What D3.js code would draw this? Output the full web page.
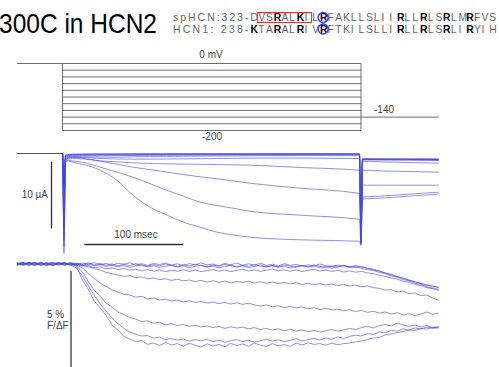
<!DOCTYPE html>
<html>
<head>
<meta charset="utf-8">
<script src="https://cdn.jsdelivr.net/npm/d3@7"></script>
<style>
  body { margin: 0; background: #fff; }
  svg { display: block; }
  text { font-family: "Liberation Sans", Arial, sans-serif; }
</style>
</head>
<body>
<div id="chart"></div>
<script>
// ---- data ----
// voltage protocol (mV)
const holdV = 0;
const stepV = [0, -20, -40, -60, -80, -100, -120, -140, -160, -180, -200];
const tailV = -160;          // drawn level of the tail pulse
const protoT = [-46, 0, 301.5, 380]; // hold start, step on, step off, tail end (ms)

// current traces (µA), one per step, sampled at tCur (ms)
const tCur = [-46, 0, 1.5, 3, 6, 10, 20, 38, 55, 71, 88, 105, 122, 139, 156, 172, 189, 240, 298, 300, 301.5, 303, 320, 350, 380];
const cur1 = [0, 0, -5.0, -0.2, -0.1, -0.08, -0.06, -0.05, -0.05, -0.04, -0.04, -0.04, -0.03, -0.03, -0.03, -0.03, -0.03, -0.03, -0.03, -0.05, -12.2, -0.8, -0.8, -0.82, -0.82];
const cur2 = [0, 0, -6.0, -0.3, -0.18, -0.14, -0.12, -0.1, -0.09, -0.08, -0.07, -0.07, -0.06, -0.06, -0.06, -0.05, -0.05, -0.05, -0.05, -0.07, -12.4, -0.82, -0.83, -0.84, -0.85];
const cur3 = [0, 0, -7.0, -0.4, -0.25, -0.2, -0.18, -0.16, -0.14, -0.13, -0.12, -0.11, -0.1, -0.1, -0.1, -0.09, -0.09, -0.08, -0.08, -0.1, -12.6, -0.85, -0.86, -0.87, -0.88];
const cur4 = [0, 0, -8.0, -0.5, -0.32, -0.28, -0.26, -0.24, -0.22, -0.2, -0.18, -0.17, -0.16, -0.15, -0.15, -0.14, -0.14, -0.13, -0.12, -0.14, -12.8, -0.88, -0.9, -0.9, -0.92];
const cur5 = [0, 0, -9.0, -0.6, -0.4, -0.36, -0.35, -0.35, -0.32, -0.3, -0.28, -0.26, -0.25, -0.24, -0.23, -0.22, -0.22, -0.21, -0.2, -0.22, -13.0, -0.9, -0.92, -0.94, -0.95];
const cur6 = [0, 0, -10.0, -0.7, -0.5, -0.45, -0.5, -0.55, -0.55, -0.5, -0.48, -0.45, -0.42, -0.4, -0.38, -0.36, -0.35, -0.33, -0.32, -0.34, -13.2, -0.95, -0.98, -1.0, -1.05];
const cur7 = [0, 0, -11.0, -0.8, -0.6, -0.55, -0.6, -0.75, -0.82, -0.85, -0.85, -0.82, -0.8, -0.78, -0.75, -0.72, -0.7, -0.7, -0.75, -0.78, -13.3, -1.15, -1.25, -1.35, -1.45];
const cur8 = [0, 0, -12.0, -0.9, -0.7, -0.6, -0.7, -1.1, -1.25, -1.4, -1.5, -1.55, -1.6, -1.62, -1.66, -1.7, -1.75, -2.1, -2.5, -2.55, -13.4, -2.5, -2.6, -2.7, -2.8];
const cur9 = [0, 0, -13.0, -1.0, -0.8, -0.75, -0.8, -1.15, -1.6, -2.05, -2.4, -2.8, -3.15, -3.5, -3.8, -4.1, -4.45, -5.2, -5.95, -6.0, -13.5, -4.75, -4.75, -4.75, -4.75];
const cur10 = [0, 0, -14.0, -1.2, -1.0, -1.1, -1.3, -2.05, -2.8, -3.55, -4.5, -5.5, -6.4, -7.3, -7.8, -8.2, -8.65, -9.25, -9.85, -9.9, -13.6, -6.55, -6.4, -6.1, -5.8];
const cur11 = [0, 0, -15.0, -1.2, -1.1, -1.3, -1.6, -2.5, -4.0, -6.25, -8.0, -9.2, -10.3, -11.05, -11.8, -12.2, -12.55, -12.95, -13.15, -13.2, -13.8, -6.85, -6.7, -6.4, -6.1];

// fluorescence traces (% F/ΔF), sampled at tFl (ms)
const tFl = [-46, -40, -34, -28, -22, -16, -10, -4, 2, 8, 14, 20, 26, 32, 38, 44, 50, 56, 62, 68, 74, 80, 86, 92, 98, 104, 110, 116, 122, 128, 134, 140, 146, 152, 158, 164, 170, 176, 182, 188, 194, 200, 206, 212, 218, 224, 230, 236, 242, 248, 254, 260, 266, 272, 278, 284, 290, 296, 302, 308, 314, 320, 326, 332, 338, 344, 350, 356, 362, 368, 374, 380];
const fl1 = [-0.02, 0.07, -0.05, 0.02, 0.06, -0.03, 0.08, -0.06, 0.04, 0.01, -0.03, 0.05, -0.02, 0.07, -0.04, 0.03, -0.06, 0.04, -0.01, 0.06, -0.05, 0.02, -0.07, 0.03, -0.03, 0.05, -0.06, 0.01, -0.08, 0.02, -0.04, 0.06, -0.05, 0.00, -0.09, 0.03, -0.04, 0.05, -0.07, 0.01, -0.06, 0.04, -0.08, -0.01, -0.10, 0.02, -0.07, -0.02, -0.11, -0.04, -0.09, 0.00, -0.08, -0.12, -0.05, -0.10, -0.14, -0.08, -0.16, -0.22, -0.30, -0.36, -0.46, -0.54, -0.64, -0.72, -0.82, -0.90, -0.98, -1.06, -1.10, -1.15];
const fl2 = [0.05, -0.06, 0.03, 0.09, -0.03, 0.06, -0.08, 0.01, 0.07, -0.05, 0.04, -0.02, 0.06, -0.05, 0.03, -0.07, 0.01, -0.09, -0.02, -0.08, 0.02, -0.06, -0.11, -0.03, -0.09, 0.00, -0.07, -0.12, -0.04, -0.10, -0.01, -0.08, -0.13, -0.05, -0.11, -0.02, -0.09, -0.14, -0.06, -0.12, -0.03, -0.10, -0.15, -0.07, -0.13, -0.04, -0.11, -0.16, -0.08, -0.14, -0.05, -0.12, -0.17, -0.09, -0.15, -0.07, -0.13, -0.18, -0.12, -0.20, -0.26, -0.34, -0.44, -0.52, -0.62, -0.70, -0.80, -0.88, -0.98, -1.04, -1.12, -1.18];
const fl3 = [-0.07, 0.01, 0.06, -0.04, 0.08, -0.02, -0.06, 0.05, 0.00, 0.07, 0.02, -0.06, 0.01, -0.09, -0.03, -0.12, -0.05, -0.14, -0.08, -0.16, -0.10, -0.05, -0.14, -0.08, -0.17, -0.11, -0.06, -0.15, -0.09, -0.18, -0.12, -0.07, -0.16, -0.10, -0.19, -0.13, -0.06, -0.15, -0.09, -0.18, -0.12, -0.05, -0.14, -0.08, -0.17, -0.11, -0.20, -0.13, -0.07, -0.16, -0.10, -0.19, -0.12, -0.21, -0.14, -0.08, -0.18, -0.12, -0.22, -0.28, -0.32, -0.42, -0.48, -0.60, -0.66, -0.78, -0.84, -0.96, -1.02, -1.14, -1.20, -1.26];
const fl4 = [0.02, 0.09, -0.03, 0.05, -0.08, 0.04, 0.07, -0.05, 0.03, -0.02, -0.04, -0.10, -0.08, -0.18, -0.14, -0.24, -0.20, -0.28, -0.22, -0.30, -0.26, -0.34, -0.28, -0.36, -0.30, -0.38, -0.32, -0.36, -0.29, -0.37, -0.31, -0.38, -0.33, -0.28, -0.36, -0.30, -0.38, -0.32, -0.27, -0.35, -0.30, -0.37, -0.31, -0.26, -0.34, -0.29, -0.36, -0.30, -0.38, -0.32, -0.27, -0.35, -0.30, -0.37, -0.32, -0.40, -0.34, -0.41, -0.37, -0.44, -0.48, -0.56, -0.62, -0.70, -0.76, -0.86, -0.92, -1.02, -1.08, -1.18, -1.24, -1.32];
const fl5 = [0.04, -0.05, 0.01, 0.08, -0.06, 0.03, -0.02, 0.06, -0.07, 0.02, 0.00, -0.05, -0.14, -0.22, -0.30, -0.42, -0.48, -0.55, -0.62, -0.58, -0.68, -0.65, -0.74, -0.70, -0.78, -0.74, -0.82, -0.76, -0.84, -0.80, -0.88, -0.82, -0.90, -0.84, -0.92, -0.86, -0.94, -0.88, -0.92, -0.86, -0.95, -0.89, -0.96, -0.90, -0.98, -0.92, -1.00, -0.94, -1.02, -0.96, -1.04, -0.98, -1.05, -1.00, -1.08, -1.02, -1.10, -1.06, -1.14, -1.10, -1.18, -1.22, -1.30, -1.28, -1.40, -1.36, -1.48, -1.45, -1.58, -1.55, -1.70, -1.82];
const fl6 = [-0.06, 0.03, 0.07, -0.04, 0.02, -0.08, 0.05, -0.01, 0.04, -0.07, -0.05, -0.18, -0.48, -0.72, -0.95, -1.12, -1.28, -1.40, -1.52, -1.55, -1.66, -1.62, -1.74, -1.70, -1.80, -1.76, -1.85, -1.80, -1.90, -1.84, -1.92, -1.88, -1.95, -1.90, -1.98, -1.92, -2.00, -1.94, -2.02, -1.96, -2.05, -2.10, -2.04, -2.14, -2.08, -2.18, -2.12, -2.20, -2.15, -2.24, -2.18, -2.28, -2.22, -2.30, -2.26, -2.34, -2.28, -2.38, -2.32, -2.42, -2.36, -2.45, -2.40, -2.50, -2.44, -2.55, -2.48, -2.58, -2.50, -2.40, -2.52, -2.45];
const fl7 = [0.07, -0.02, 0.03, -0.09, 0.05, 0.01, -0.06, 0.04, -0.03, 0.06, -0.08, -0.40, -0.88, -1.30, -1.62, -1.95, -2.15, -2.40, -2.52, -2.68, -2.75, -2.88, -2.84, -2.96, -2.92, -3.04, -2.98, -3.08, -3.02, -3.12, -3.06, -3.15, -3.10, -3.18, -3.12, -3.22, -3.14, -3.20, -3.16, -3.24, -3.18, -3.28, -3.22, -3.30, -3.24, -3.34, -3.26, -3.35, -3.30, -3.38, -3.32, -3.40, -3.34, -3.28, -3.36, -3.30, -3.22, -3.28, -3.18, -3.12, -3.20, -3.08, -3.02, -3.10, -2.96, -3.04, -3.12, -3.06, -3.15, -3.08, -3.18, -3.12];
const fl8 = [-0.03, 0.06, -0.08, 0.04, -0.01, 0.07, -0.05, 0.02, 0.08, -0.04, -0.20, -0.60, -1.10, -1.55, -2.00, -2.35, -2.70, -2.98, -3.22, -3.40, -3.52, -3.60, -3.58, -3.70, -3.66, -3.78, -3.72, -3.80, -3.75, -3.86, -3.78, -3.84, -3.76, -3.88, -3.80, -3.92, -3.83, -3.78, -3.88, -3.81, -3.90, -3.84, -3.76, -3.86, -3.79, -3.88, -3.82, -3.74, -3.85, -3.78, -3.72, -3.80, -3.70, -3.76, -3.65, -3.72, -3.62, -3.56, -3.60, -3.48, -3.52, -3.40, -3.44, -3.32, -3.36, -3.24, -3.30, -3.20, -3.26, -3.15, -3.22, -3.18];
const fl9 = [0.05, -0.04, 0.08, -0.02, 0.06, -0.07, 0.03, 0.09, -0.05, 0.02, -0.10, -0.80, -1.25, -1.85, -2.20, -2.55, -3.05, -3.30, -3.62, -3.75, -3.88, -3.82, -4.02, -3.95, -4.08, -3.92, -4.05, -3.98, -4.12, -3.96, -4.06, -4.15, -3.99, -4.10, -4.02, -4.14, -3.97, -4.08, -4.00, -4.11, -3.95, -4.06, -4.13, -3.98, -4.09, -4.03, -4.12, -3.96, -4.05, -3.94, -4.02, -3.98, -4.06, -3.96, -4.04, -3.98, -3.95, -3.90, -3.85, -3.78, -3.70, -3.66, -3.55, -3.50, -3.42, -3.38, -3.30, -3.33, -3.22, -3.25, -3.16, -3.20];

// texts
const title = "300C in HCN2";
const seqPrefix = ["spHCN:323-", "HCN1: 238-"];
const seqBody = ["DVSRALKILRFAKLLSLIIRLLRLSRLMRFVS", "KTARALRIVRFTKILSLLIRLLRLSRLIRYIH"];
const seqBold = [[3, 6, 9, 19, 22, 25, 28], [0, 3, 6, 9, 19, 22, 25, 28]];
const boxChars = [1, 8];     // red box over residues 1..7 of line 1
const circledChar = 9;       // circled residue (both lines)

// ---- chart ----
const W = 499, H = 367;
const traceColor = "#4646e0";

const svg = d3.select("#chart")
    .append("svg")
    .attr("width", W)
    .attr("height", H);

// shared time axis: 100 ms ~ 99 px
const xScale = d3.scaleLinear().domain([0, 100]).range([62.5, 161.5]);
const yV = d3.scaleLinear().domain([0, -200]).range([63.5, 130.5]);
const yI = d3.scaleLinear().domain([0, -15]).range([153.5, 253.5]);
const yF = d3.scaleLinear().domain([0, -5]).range([264, 364]);

// title
svg.append("text")
    .attr("x", -1)
    .attr("y", 33)
    .attr("font-size", 28)
    .attr("textLength", 158)
    .attr("lengthAdjust", "spacingAndGlyphs")
    .attr("fill", "#000")
    .text(title);

// sequence alignment, one text per residue so bold ones keep the grid
const seqX = 173, charW = 7.7;
const seqY = [21, 32.5];
const seqStart = seqX + 10 * charW;
seqBody.forEach((seq, li) => {
    const g = svg.append("g")
        .style("font-family", "'Liberation Mono', 'DejaVu Sans Mono', monospace")
        .attr("font-size", 10.4);
    g.append("text")
        .attr("x", seqX)
        .attr("y", seqY[li])
        .attr("textLength", 10 * charW - 1.5)
        .attr("lengthAdjust", "spacing")
        .attr("fill", "#666")
        .text(seqPrefix[li]);
    g.selectAll(".res")
        .data(seq.split(""))
        .enter()
        .append("text")
        .attr("class", "res")
        .attr("x", (c, i) => seqStart + i * charW + 0.6)
        .attr("y", seqY[li])
        .attr("font-weight", (c, i) => seqBold[li].includes(i) ? "bold" : "normal")
        .attr("fill", (c, i) => seqBold[li].includes(i) ? "#000" : "#666")
        .text(c => c);
});
svg.append("rect")
    .attr("x", seqStart + boxChars[0] * charW)
    .attr("y", 12.5)
    .attr("width", (boxChars[1] - boxChars[0]) * charW)
    .attr("height", 10)
    .attr("fill", "none")
    .attr("stroke", "#e03030")
    .attr("stroke-width", 1);
seqY.forEach(y => {
    svg.append("circle")
        .attr("cx", seqStart + (circledChar + 0.5) * charW)
        .attr("cy", y - 3.5)
        .attr("r", 5)
        .attr("fill", "none")
        .attr("stroke", "#3a3af0")
        .attr("stroke-width", 1.5);
});

// ---- voltage protocol ----
const proto = svg.append("g").attr("stroke", "#6e6e6e").attr("stroke-width", 1).attr("fill", "none");
proto.append("line")
    .attr("x1", xScale(protoT[0])).attr("x2", xScale(protoT[1]))
    .attr("y1", yV(holdV)).attr("y2", yV(holdV));
proto.selectAll(".step")
    .data(stepV)
    .enter()
    .append("line")
    .attr("class", "step")
    .attr("x1", xScale(protoT[1])).attr("x2", xScale(protoT[2]))
    .attr("y1", d => yV(d)).attr("y2", d => yV(d));
[protoT[1], protoT[2]].forEach(t => {
    proto.append("line")
        .attr("x1", xScale(t)).attr("x2", xScale(t))
        .attr("y1", yV(d3.max(stepV))).attr("y2", yV(d3.min(stepV)));
});
proto.append("line")
    .attr("x1", xScale(protoT[2])).attr("x2", xScale(protoT[3]))
    .attr("y1", yV(tailV)).attr("y2", yV(tailV));

const label = (x, y, txt, anchor) => svg.append("text")
    .attr("x", x).attr("y", y)
    .attr("font-size", 10)
    .attr("fill", "#444")
    .attr("text-anchor", anchor || "start")
    .text(txt);

label(211, 58, "0 mV", "middle");
label(212, 140, "-200", "middle");
label(374, 113, "-140");

// ---- current traces ----
const currents = [cur1, cur2, cur3, cur4, cur5, cur6, cur7, cur8, cur9, cur10, cur11];
const curLine = d3.line()
    .x((d, i) => xScale(tCur[i]))
    .y(d => yI(d))
    .curve(d3.curveMonotoneX);

svg.append("g")
    .selectAll("path")
    .data(currents)
    .enter()
    .append("path")
    .attr("fill", "none")
    .attr("stroke", traceColor)
    .attr("stroke-opacity", 0.6)
    .attr("stroke-width", 1)
    .attr("d", curLine);

// scale bars for current panel
svg.append("line")
    .attr("x1", 51.5).attr("x2", 51.5)
    .attr("y1", yI(-1.25)).attr("y2", yI(-11.25))
    .attr("stroke", "#333").attr("stroke-width", 1.3);
label(48, 198, "10 µA", "end");

svg.append("line")
    .attr("x1", xScale(22)).attr("x2", xScale(122))
    .attr("y1", 244.5).attr("y2", 244.5)
    .attr("stroke", "#333").attr("stroke-width", 1.3);
label(136, 238, "100 msec", "middle");

// ---- fluorescence traces ----
const fluor = [fl1, fl2, fl3, fl4, fl5, fl6, fl7, fl8, fl9];
const flLine = d3.line()
    .x((d, i) => xScale(tFl[i]))
    .y(d => yF(d));

svg.append("g")
    .selectAll("path")
    .data(fluor)
    .enter()
    .append("path")
    .attr("fill", "none")
    .attr("stroke", traceColor)
    .attr("stroke-opacity", 0.6)
    .attr("stroke-width", 1)
    .attr("stroke-linejoin", "round")
    .attr("d", flLine);

// 5 % scale bar
svg.append("line")
    .attr("x1", 71).attr("x2", 71)
    .attr("y1", yF(-0.35)).attr("y2", yF(-5.35))
    .attr("stroke", "#333").attr("stroke-width", 1.3);
label(47, 318, "5 %");
label(47, 329, "F/ΔF");
</script>
</body>
</html>
